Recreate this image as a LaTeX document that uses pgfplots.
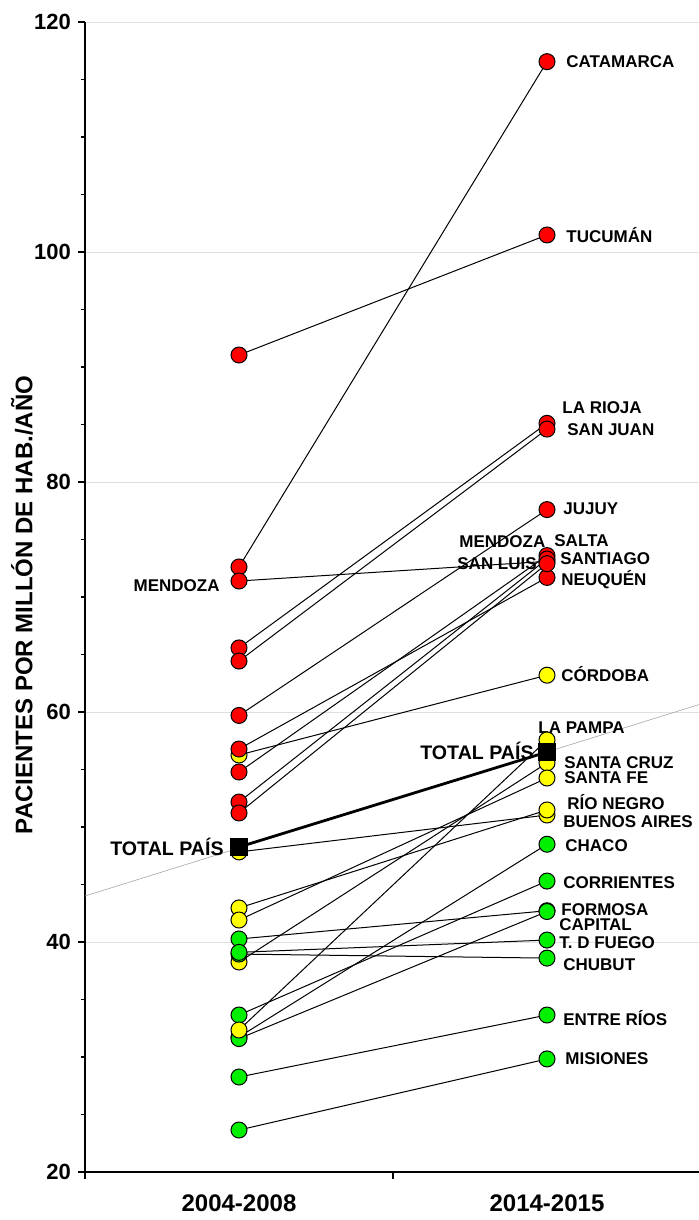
\documentclass[border=0pt]{standalone}
\usepackage{fontspec}
\setmainfont{Liberation Sans}
\usepackage{pgfplots}
\pgfplotsset{compat=1.18}
\definecolor{cred}{RGB}{255,0,0}
\definecolor{cyel}{RGB}{255,255,0}
\definecolor{cgrn}{RGB}{0,240,0}
\pgfplotsset{
  rd/.style={black, line width=0.5pt, mark=*, mark size=4pt, mark options={fill=cred, draw=black, line width=0.5pt}},
  yl/.style={black, line width=0.5pt, mark=*, mark size=4pt, mark options={fill=cyel, draw=black, line width=0.5pt}},
  gr/.style={black, line width=0.5pt, mark=*, mark size=4pt, mark options={fill=cgrn, draw=black, line width=0.5pt}},
}
\tikzset{
  lbl/.style={font=\fontsize{8.5}{10}\selectfont\bfseries, inner sep=0pt, anchor=west},
  lbt/.style={font=\fontsize{9.8}{11}\selectfont\bfseries, inner sep=0pt, anchor=east},
}
\begin{document}
\begin{tikzpicture}
\begin{axis}[
  set layers, mark layer=axis foreground,
  at={(0,0)}, anchor=south west,
  scale only axis, width=308pt, height=575pt,
  xmin=0, xmax=2, ymin=20, ymax=120,
  clip=false,
  axis x line=bottom, axis y line=left,
  axis line style={-, line width=0.8pt},
  tick align=outside,
  major tick length=3.5pt, minor tick length=2pt,
  tick style={black, line width=0.6pt},
  xtick={0,1,2}, xticklabels={},
  extra x ticks={0.5,1.5}, extra x tick labels={2004-2008,2014-2015},
  extra x tick style={major tick length=0pt, ticklabel style={font=\fontsize{12}{14}\selectfont\bfseries, yshift=-8pt}},
  ytick={20,40,...,120}, minor y tick num=3,
  yticklabel style={font=\fontsize{11}{13}\selectfont\bfseries},
  /pgf/number format/assume math mode=true,
  ymajorgrids, major grid style={gray!25, line width=0.4pt},
  ylabel={PACIENTES POR MILLÓN DE HAB./AÑO},
  every axis y label/.style={at={(axis description cs:0,0.5)}, xshift=-31.5pt, yshift=-4pt, rotate=90, anchor=center, font=\fontsize{12}{14}\selectfont\bfseries},
]
% trend line through TOTAL PAIS
\addplot[gray!70, line width=0.3pt, mark=none] coordinates {(0,44.0) (2,60.7)};
% yellow
\addplot[yl] coordinates {(0.5,56.26) (1.5,63.20)}; % Cordoba
\addplot[yl] coordinates {(0.5,47.83) (1.5,51.04)}; % Buenos Aires
\addplot[yl] coordinates {(0.5,42.96) (1.5,51.48)}; % Rio Negro
\addplot[yl] coordinates {(0.5,38.26) (1.5,55.57)}; % Santa Cruz
\addplot[yl] coordinates {(0.5,41.91) (1.5,54.26)}; % Santa Fe
% red
\addplot[rd] coordinates {(0.5,91.04) (1.5,101.48)}; % Tucuman
\addplot[rd] coordinates {(0.5,72.61) (1.5,116.55)}; % Catamarca
\addplot[rd] coordinates {(0.5,71.39) (1.5,73.10)}; % Mendoza
\addplot[rd] coordinates {(0.5,65.57) (1.5,85.10)}; % La Rioja
\addplot[rd] coordinates {(0.5,64.43) (1.5,84.60)}; % San Juan
\addplot[rd] coordinates {(0.5,59.70) (1.5,77.60)}; % Jujuy
\addplot[rd] coordinates {(0.5,56.78) (1.5,71.70)}; % Neuquen
\addplot[rd] coordinates {(0.5,54.78) (1.5,73.60)}; % Salta
\addplot[rd] coordinates {(0.5,52.17) (1.5,73.30)}; % Santiago
\addplot[rd] coordinates {(0.5,51.22) (1.5,72.90)}; % San Luis
% green
\addplot[gr] coordinates {(0.5,40.26) (1.5,42.72)}; % Formosa
\addplot[gr] coordinates {(0.5,38.95) (1.5,38.60)}; % Chubut
\addplot[gr] coordinates {(0.5,39.10) (1.5,40.17)}; % T. D Fuego
\addplot[gr] coordinates {(0.5,33.65) (1.5,45.30)}; % Corrientes
\addplot[gr] coordinates {(0.5,31.74) (1.5,48.50)}; % Chaco
\addplot[gr] coordinates {(0.5,31.60) (1.5,42.65)}; % Capital
\addplot[gr] coordinates {(0.5,28.26) (1.5,33.65)}; % Entre Rios
\addplot[gr] coordinates {(0.5,23.65) (1.5,29.83)}; % Misiones
\addplot[yl] coordinates {(0.5,32.35) (1.5,57.57)}; % La Pampa
% total
\addplot[black, line width=1.4pt, mark=square*, mark size=4.2pt, mark options={fill=black, draw=black, line width=0.5pt}] coordinates {(0.5,48.26) (1.5,56.52)};
% labels
\node[lbl, xshift=9.5pt] at (axis cs:1.5,116.52) {CATAMARCA};
\node[lbl, xshift=9.5pt] at (axis cs:1.5,101.48) {TUCUMÁN};
\node[lbl, xshift=7.5pt] at (axis cs:1.5,86.43) {LA RIOJA};
\node[lbl, xshift=10pt] at (axis cs:1.5,84.52) {SAN JUAN};
\node[lbl, xshift=8pt] at (axis cs:1.5,77.65) {JUJUY};
\node[lbl, xshift=-44pt] at (axis cs:1.5,74.78) {MENDOZA};
\node[lbl, xshift=3.5pt] at (axis cs:1.5,74.87) {SALTA};
\node[lbl, xshift=-45pt] at (axis cs:1.5,72.87) {SAN LUIS};
\node[lbl, xshift=6.5pt] at (axis cs:1.5,73.30) {SANTIAGO};
\node[lbl, xshift=7pt] at (axis cs:1.5,71.48) {NEUQUÉN};
\node[lbl, xshift=7pt] at (axis cs:1.5,63.30) {CÓRDOBA};
\node[lbl, xshift=-4.5pt] at (axis cs:1.5,58.61) {LA PAMPA};
\node[lbt, xshift=-6.5pt] at (axis cs:1.5,56.61) {TOTAL PAÍS};
\node[lbl, xshift=8.5pt] at (axis cs:1.5,55.57) {SANTA CRUZ};
\node[lbl, xshift=8.5pt] at (axis cs:1.5,54.26) {SANTA FE};
\node[lbl, xshift=10pt] at (axis cs:1.5,52.17) {RÍO NEGRO};
\node[lbl, xshift=8pt] at (axis cs:1.5,50.43) {BUENOS AIRES};
\node[lbl, xshift=9pt] at (axis cs:1.5,48.35) {CHACO};
\node[lbl, xshift=8pt] at (axis cs:1.5,45.13) {CORRIENTES};
\node[lbl, xshift=7pt] at (axis cs:1.5,42.78) {FORMOSA};
\node[lbl, xshift=6pt] at (axis cs:1.5,41.48) {CAPITAL};
\node[lbl, xshift=6pt] at (axis cs:1.5,39.91) {T. D FUEGO};
\node[lbl, xshift=8pt] at (axis cs:1.5,38.00) {CHUBUT};
\node[lbl, xshift=8pt] at (axis cs:1.5,33.39) {ENTRE RÍOS};
\node[lbl, xshift=9pt] at (axis cs:1.5,29.83) {MISIONES};
\node[lbl, anchor=east, xshift=-9.5pt] at (axis cs:0.5,70.96) {MENDOZA};
\node[lbt, xshift=-7.5pt] at (axis cs:0.5,48.26) {TOTAL PAÍS};
\end{axis}
\pgfresetboundingbox
\path[use as bounding box] (-42.5pt,-24pt) rectangle (306.5pt,586pt);
\end{tikzpicture}
\end{document}
